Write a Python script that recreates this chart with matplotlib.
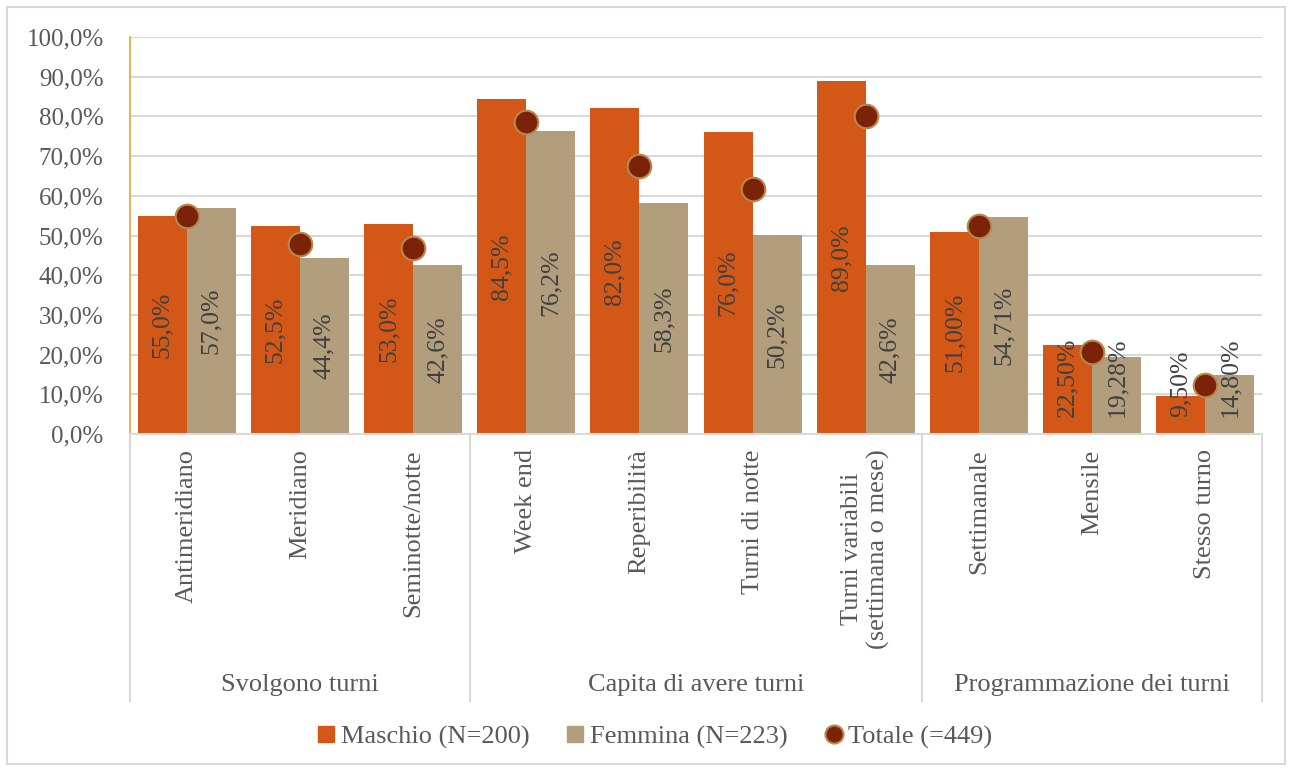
import matplotlib
matplotlib.use('Agg')
import matplotlib.pyplot as plt
from matplotlib.patches import Rectangle
from matplotlib.lines import Line2D
import numpy as np

# Dati
categorie = ['Antimeridiano', 'Meridiano', 'Seminotte/notte',
             'Week end', 'Reperibilità', 'Turni di notte',
             'Turni variabili\n(settimana o mese)',
             'Settimanale', 'Mensile', 'Stesso turno']
gruppi = ['Svolgono turni', 'Capita di avere turni', 'Programmazione dei turni']
gruppi_n = [3, 4, 3]
maschio = [55.0, 52.5, 53.0, 84.5, 82.0, 76.0, 89.0, 51.00, 22.50, 9.50]
femmina = [57.0, 44.4, 42.6, 76.2, 58.3, 50.2, 42.6, 54.71, 19.28, 14.80]
totale = [55.0, 47.8, 46.9, 78.7, 67.5, 61.6, 80.1, 52.5, 20.6, 12.3]
decimali = [1, 1, 1, 1, 1, 1, 1, 2, 2, 2]
yticks = np.arange(0, 101, 10)

# Stile
plt.rcParams['font.family'] = ['Liberation Serif', 'DejaVu Serif']
col_m = '#D35817'
col_f = '#B29D7C'
col_t = '#7B2309'
col_t_edge = '#B8874E'
col_txt = '#595959'
col_lab = '#404040'
col_grid = '#D9D9D9'
fs = 18      # tick asse y
fs_lab = 18.5  # etichette dati
fs_cat = 19  # categorie e legenda

fig = plt.figure(figsize=(12.92, 7.71), dpi=100)
ax = fig.add_axes([130/1292, 1-434/771, (1262-130)/1292, (434-37)/771])

x = np.arange(len(categorie))
w = 0.433

ax.bar(x - w/2, maschio, width=w, color=col_m, zorder=2)
ax.bar(x + w/2, femmina, width=w, color=col_f, zorder=2)
ax.plot(x, totale, linestyle='none', marker='o', ms=17, mfc=col_t,
        mec=col_t_edge, mew=1.5, zorder=4)

def fmt(v, d):
    return ('{:.%df}%%' % d).format(v).replace('.', ',')

# etichette dati
for xs, vals in ((x - w/2, maschio), (x + w/2, femmina)):
    for xi, v, d in zip(xs, vals, decimali):
        if v >= 30:
            ax.text(xi, v/2, fmt(v, d), rotation=90, ha='center', va='center',
                    fontsize=fs_lab, color=col_lab, zorder=3)
        else:
            ax.text(xi, 4.3, fmt(v, d), rotation=90, ha='center', va='bottom',
                    fontsize=fs_lab, color=col_lab, zorder=3)

# assi
ax.set_xlim(-0.5, len(categorie) - 0.5)
ax.set_ylim(0, 100)
ax.set_yticks(yticks)
ax.set_yticklabels([fmt(t, 1) for t in yticks], fontsize=fs, color=col_txt)
ax.yaxis.grid(True, color=col_grid, linewidth=1.5, zorder=0)
ax.set_axisbelow(True)
ax.tick_params(axis='y', length=0, pad=19)
ax.set_xticks(x)
ax.set_xticklabels(categorie, rotation=90, fontsize=fs_cat, color=col_txt,
                   multialignment='center')
ax.tick_params(axis='x', length=0, pad=11)
for s in ['top', 'right']:
    ax.spines[s].set_visible(False)
ax.spines['left'].set_color('#E9A23B')
ax.spines['left'].set_linewidth(1.2)
ax.spines['bottom'].set_color(col_grid)
ax.spines['bottom'].set_linewidth(1.5)

# secondo livello delle categorie
trans = ax.get_xaxis_transform()
bordi = np.concatenate([[0], np.cumsum(gruppi_n)]) - 0.5
for b in bordi:
    ax.plot([b, b], [0, -0.672], color=col_grid, lw=1.5, transform=trans, clip_on=False)
for i, g in enumerate(gruppi):
    ax.text((bordi[i] + bordi[i+1]) / 2, -0.632, g, transform=trans,
            ha='center', va='center', fontsize=fs_cat, color=col_txt)

# legenda
handles = [Line2D([], [], linestyle='none', marker='s', ms=11, mfc=col_m, mec=col_m),
           Line2D([], [], linestyle='none', marker='s', ms=11, mfc=col_f, mec=col_f),
           Line2D([], [], linestyle='none', marker='o', ms=13, mfc=col_t, mec=col_t_edge, mew=1.5)]
leg = fig.legend(handles, ['Maschio (N=200)', 'Femmina (N=223)', 'Totale (=449)'],
                 loc='center', bbox_to_anchor=(654/1292, 1-737/771), ncol=3,
                 frameon=False, fontsize=fs_cat, handlelength=0.8, handletextpad=0.15,
                 columnspacing=1.35)
for t in leg.get_texts():
    t.set_color(col_txt)

# bordo figura
fig.patches.append(Rectangle((7/1292, 7/771), 1-14/1292, 1-14/771, transform=fig.transFigure,
                             fill=False, edgecolor=col_grid, linewidth=1.5))

fig.savefig('out.png', dpi=100)
